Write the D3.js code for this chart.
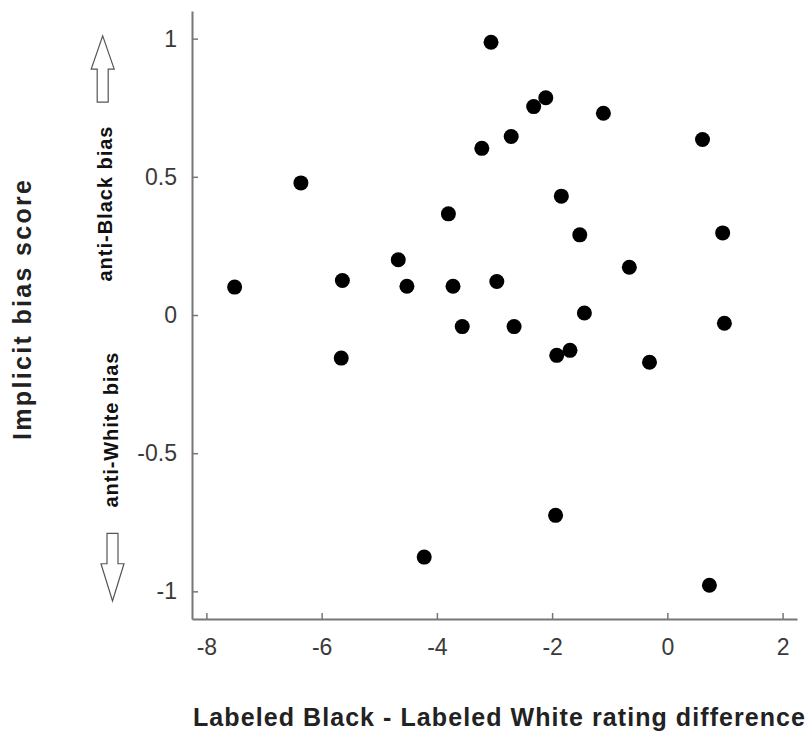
<!DOCTYPE html>
<html>
<head>
<meta charset="utf-8">
<script src="https://cdn.jsdelivr.net/npm/d3@7"></script>
<style>
  body { margin: 0; background: #fff; }
  text { font-family: "Liberation Sans", Arial, sans-serif; }
</style>
</head>
<body>
<div id="chart"></div>
<script>
// rating difference (Labeled Black - Labeled White)
let ratingDiff = [-3.06, -3.22, -6.36, -3.80, -4.67, -7.51, -5.64, -4.52, -3.72, -2.96,
                  -3.56, -2.11, -2.32, -1.11, 0.61, -2.71, -1.84, -1.52, 0.96, -0.66,
                  -2.66, -1.44, 0.99, -1.92, -1.69, -0.31, -5.66, -1.94, -4.22, 0.73];
// implicit bias score
let biasScore = [0.987, 0.603, 0.478, 0.366, 0.200, 0.101, 0.125, 0.104, 0.104, 0.121,
                 -0.042, 0.786, 0.754, 0.730, 0.635, 0.646, 0.430, 0.290, 0.297, 0.173,
                 -0.042, 0.007, -0.030, -0.146, -0.128, -0.171, -0.156, -0.725, -0.876, -0.978];

let xTicks = [-8, -6, -4, -2, 0, 2];
let yTicks = [-1, -0.5, 0, 0.5, 1];

let xLabel = "Labeled Black - Labeled White rating difference";
let yLabel = "Implicit bias score";
let upNote = "anti-Black bias";
let downNote = "anti-White bias";

let points = ratingDiff.map((d, i) => ({x: d, y: biasScore[i]}));

let W = 808, H = 732;
let margin = {left: 192, right: 11, top: 11, bottom: 113};
let width = W - margin.left - margin.right;
let height = H - margin.top - margin.bottom;

let xScale = d3.scaleLinear().domain([-8.25, 2.25]).range([0, width]);
let yScale = d3.scaleLinear().domain([-1.1, 1.1]).range([height, 0]);

let svg = d3.select("#chart").append("svg").attr("width", W).attr("height", H);
let g = svg.append("g").attr("transform", "translate(" + margin.left + "," + margin.top + ")");

let axisColor = "#777";

let xAxis = d3.axisBottom(xScale).tickValues(xTicks).tickSizeInner(-6).tickSizeOuter(0)
              .tickPadding(20).tickFormat(d => String(d));
let yAxis = d3.axisLeft(yScale).tickValues(yTicks).tickSizeInner(-6).tickSizeOuter(0)
              .tickPadding(15).tickFormat(d => String(d));

let gx = g.append("g").attr("transform", "translate(0," + height + ")").call(xAxis);
let gy = g.append("g").call(yAxis);

[gx, gy].forEach(a => {
  a.select(".domain").attr("stroke", axisColor).attr("stroke-width", 2);
  a.selectAll(".tick line").attr("stroke", axisColor).attr("stroke-width", 1.5);
  a.selectAll(".tick text").attr("fill", "#3a3a3a").style("font-size", "23px")
   .style("font-family", "'Liberation Sans', Arial, sans-serif");
});

// dots
g.append("g").selectAll("circle").data(points).enter().append("circle")
  .attr("cx", d => xScale(d.x))
  .attr("cy", d => yScale(d.y))
  .attr("r", 7.5)
  .attr("fill", "#000");

// axis titles
svg.append("text")
  .attr("x", 193).attr("y", 726)
  .attr("textLength", 612).attr("lengthAdjust", "spacing")
  .style("font-size", "25px").style("font-weight", "bold").attr("fill", "#222")
  .text(xLabel);

svg.append("text")
  .attr("transform", "translate(31," + 310 + ")rotate(-90)")
  .attr("text-anchor", "middle")
  .attr("textLength", 260).attr("lengthAdjust", "spacing")
  .style("font-size", "25px").style("font-weight", "bold").attr("fill", "#222")
  .text(yLabel);

// direction notes
svg.append("text")
  .attr("transform", "translate(112," + 204 + ")rotate(-90)")
  .attr("text-anchor", "middle")
  .attr("textLength", 155).attr("lengthAdjust", "spacing")
  .style("font-size", "20px").style("font-weight", "bold").attr("fill", "#111")
  .text(upNote);

svg.append("text")
  .attr("transform", "translate(118," + 430 + ")rotate(-90)")
  .attr("text-anchor", "middle")
  .attr("textLength", 155).attr("lengthAdjust", "spacing")
  .style("font-size", "20px").style("font-weight", "bold").attr("fill", "#111")
  .text(downNote);

// hollow arrows, placed against the y scale
function arrow(cx, yTip, yBase, yEnd) {
  let ty = yScale(yTip) + margin.top, by = yScale(yBase) + margin.top, ey = yScale(yEnd) + margin.top;
  let hw = 11.5, sw = 5.5;
  let p = d3.path();
  p.moveTo(cx, ty);
  p.lineTo(cx + hw, by);
  p.lineTo(cx + sw, by);
  p.lineTo(cx + sw, ey);
  p.lineTo(cx - sw, ey);
  p.lineTo(cx - sw, by);
  p.lineTo(cx - hw, by);
  p.closePath();
  svg.append("path").attr("d", p.toString())
    .attr("fill", "#fff").attr("stroke", "#555").attr("stroke-width", 1.2);
}
arrow(102.7, 1.01, 0.89, 0.77);
arrow(112.5, -1.035, -0.9, -0.79);
</script>
</body>
</html>
